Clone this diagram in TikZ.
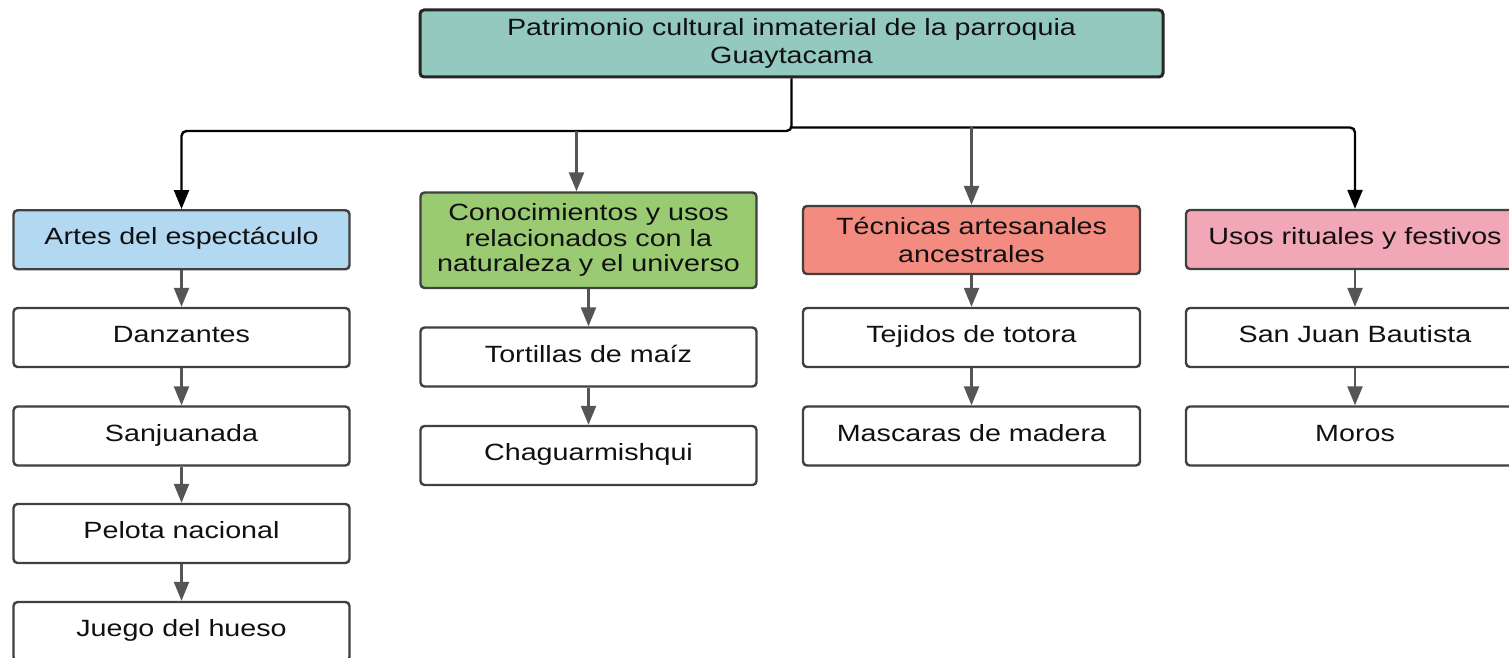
\documentclass[tikz,border=0pt]{standalone}
\usepackage{fontspec}
\setmainfont{Liberation Sans}[FakeStretch=1.22]
\usetikzlibrary{arrows.meta}
\definecolor{tealfill}{HTML}{93C9BE}
\definecolor{bluefill}{HTML}{B3D8F1}
\definecolor{greenfill}{HTML}{9ACB73}
\definecolor{redfill}{HTML}{F48B80}
\definecolor{pinkfill}{HTML}{F2A7B6}
\definecolor{boxline}{HTML}{404040}
\definecolor{arrgray}{HTML}{555555}
\definecolor{txt}{HTML}{111111}
\begin{document}
\begin{tikzpicture}[x=1pt,y=-1pt,
  box/.style={draw=boxline, line width=2.4pt, rounded corners=4pt, fill=white,
    minimum width=336pt, minimum height=59pt, inner sep=0pt, text=txt,
    font=\fontsize{23.5}{28}\selectfont},
  one/.style={text height=17pt, text depth=7pt},
  multi/.style={align=center},
  arr/.style={draw=arrgray, line width=2.4pt, -{Triangle[length=19pt,width=15pt]}},
  barr/.style={draw=black, line width=2.4pt, -{Triangle[length=19pt,width=15pt]}}
]
\useasboundingbox (0,0) rectangle (1509,658);
\clip (0,0) rectangle (1509,658);
\fill[white] (0,0) rectangle (1509,658);

% title
\node[box, multi, fill=tealfill, draw=black!85, line width=3pt, minimum width=743pt, minimum height=67pt] (top) at (791.5,43.5)
  {Patrimonio cultural inmaterial de la parroquia\\Guaytacama};

% column 1
\node[box, one, fill=bluefill] (artes) at (181.5,239.75) {Artes del espectáculo};
\node[box, one] (danz) at (181.5,337.5) {Danzantes};
\node[box, one] (sanj) at (181.5,436) {Sanjuanada};
\node[box, one] (pelota) at (181.5,533.5) {Pelota nacional};
\node[box, one] (juego) at (181.5,631.5) {Juego del hueso};

% column 2
\node[box, multi, fill=greenfill, minimum height=95.5pt, font=\fontsize{23.5}{25.5}\selectfont] (green) at (588.5,240.25)
  {Conocimientos y usos\\relacionados con la\\naturaleza y el universo};
\node[box, one] (tort) at (588.5,357) {Tortillas de maíz};
\node[box, one] (chag) at (588.5,455.5) {Chaguarmishqui};

% column 3
\node[box, multi, fill=redfill, minimum width=337pt, minimum height=68pt] (red) at (971.5,240)
  {Técnicas artesanales\\ancestrales};
\node[box, one, minimum width=337pt] (tej) at (971.5,337.5) {Tejidos de totora};
\node[box, one, minimum width=337pt] (masc) at (971.5,436) {Mascaras de madera};

% column 4
\node[box, one, fill=pinkfill, minimum width=338pt] (usos) at (1355,239.5) {Usos rituales y festivos};
\node[box, one, minimum width=338pt] (sjb) at (1355,337.5) {San Juan Bautista};
\node[box, one, minimum width=338pt] (moros) at (1355,436) {Moros};

% top-level connectors
\coordinate (jl) at (181.5,131);
\coordinate (jr) at (791.5,127.5);
\coordinate (jg) at (576.5,131);
\coordinate (jt) at (971.5,127.5);
\draw[barr, rounded corners=5pt] (top.south) |- (jl) -- (artes.north);
\draw[barr, rounded corners=5pt] (jr) -| (usos.north);
\draw[arr] (jg) -- (jg |- green.north);
\draw[arr] (jt) -- (red.north);

% column connectors
\draw[arr] (artes) -- (danz);
\draw[arr] (danz) -- (sanj);
\draw[arr] (sanj) -- (pelota);
\draw[arr] (pelota) -- (juego);
\draw[arr] (green) -- (tort);
\draw[arr] (tort) -- (chag);
\draw[arr] (red) -- (tej);
\draw[arr] (tej) -- (masc);
\draw[arr] (usos) -- (sjb);
\draw[arr] (sjb) -- (moros);
\end{tikzpicture}
\end{document}
